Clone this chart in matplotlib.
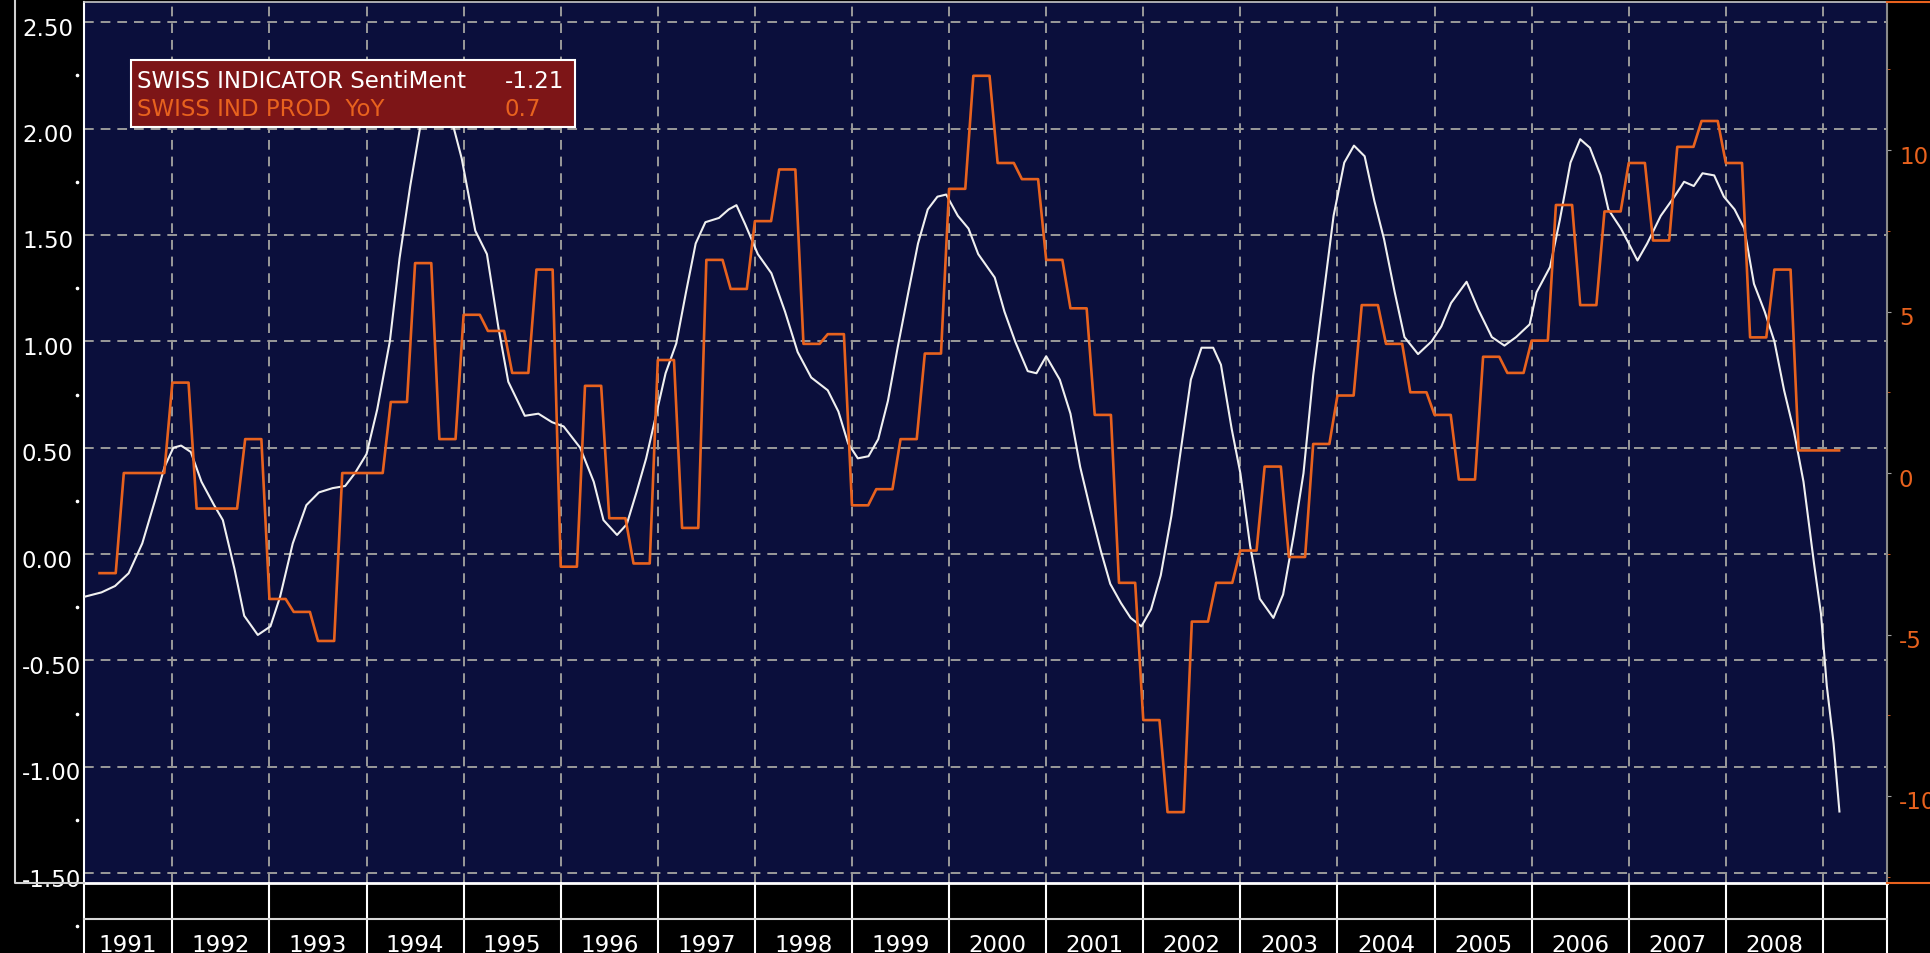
import numpy as np
import matplotlib
matplotlib.use('Agg')
import matplotlib.pyplot as plt
from matplotlib.lines import Line2D
from matplotlib.patches import Rectangle
from matplotlib import transforms

# SWISS INDICATOR Sentiment (left axis), decimal year -> value
sent_t = [1991.10, 1991.27, 1991.41, 1991.55, 1991.69, 1991.82, 1991.92,
          1992.01, 1992.09, 1992.19, 1992.30, 1992.43, 1992.52, 1992.64, 1992.74, 1992.88,
          1993.01, 1993.11, 1993.24, 1993.38, 1993.51, 1993.65, 1993.78, 1993.88,
          1994.00, 1994.11, 1994.24, 1994.34, 1994.45, 1994.55, 1994.72, 1994.90, 1994.98,
          1995.12, 1995.24, 1995.36, 1995.46, 1995.63, 1995.77, 1995.91,
          1996.03, 1996.20, 1996.34, 1996.44, 1996.58, 1996.68, 1996.78, 1996.88, 1996.98,
          1997.08, 1997.19, 1997.29, 1997.39, 1997.49, 1997.63, 1997.73, 1997.81, 1997.90,
          1998.03, 1998.17, 1998.31, 1998.44, 1998.58, 1998.75, 1998.86, 1998.96,
          1999.06, 1999.17, 1999.27, 1999.37, 1999.47, 1999.58, 1999.68, 1999.78, 1999.88, 1999.97,
          2000.09, 2000.20, 2000.30, 2000.47, 2000.57, 2000.68, 2000.81, 2000.90,
          2001.00, 2001.14, 2001.25, 2001.35, 2001.46, 2001.56, 2001.66, 2001.77, 2001.87, 2001.98,
          2002.08, 2002.18, 2002.29, 2002.39, 2002.49, 2002.60, 2002.72, 2002.80, 2002.91,
          2003.00, 2003.10, 2003.20, 2003.34, 2003.44, 2003.55, 2003.65, 2003.75, 2003.86, 2003.96,
          2004.07, 2004.17, 2004.28, 2004.38, 2004.48, 2004.59, 2004.69, 2004.83, 2004.97,
          2005.07, 2005.17, 2005.33, 2005.45, 2005.59, 2005.72, 2005.84, 2005.98,
          2006.05, 2006.19, 2006.29, 2006.40, 2006.50, 2006.60, 2006.71, 2006.79, 2006.92,
          2007.00, 2007.09, 2007.19, 2007.33, 2007.47, 2007.57, 2007.67, 2007.76, 2007.88, 2007.98,
          2008.09, 2008.19, 2008.29, 2008.40, 2008.50, 2008.60, 2008.70, 2008.80, 2008.91, 2008.98,
          2009.04, 2009.11, 2009.17]
sent_v = [-0.20, -0.18, -0.15, -0.09, 0.05, 0.25, 0.41,
          0.50, 0.51, 0.48, 0.34, 0.23, 0.16, -0.07, -0.29, -0.38,
          -0.34, -0.20, 0.05, 0.23, 0.29, 0.31, 0.32, 0.38,
          0.47, 0.68, 1.00, 1.39, 1.73, 2.00, 2.12, 2.00, 1.86,
          1.52, 1.41, 1.06, 0.81, 0.65, 0.66, 0.62,
          0.60, 0.50, 0.34, 0.16, 0.09, 0.14, 0.29, 0.45, 0.65,
          0.85, 0.99, 1.23, 1.46, 1.56, 1.58, 1.62, 1.64, 1.55,
          1.41, 1.32, 1.14, 0.95, 0.83, 0.77, 0.67, 0.52,
          0.45, 0.46, 0.54, 0.72, 0.97, 1.23, 1.46, 1.62, 1.68, 1.69,
          1.59, 1.53, 1.41, 1.30, 1.14, 1.00, 0.86, 0.85,
          0.93, 0.82, 0.66, 0.41, 0.20, 0.02, -0.14, -0.23, -0.30, -0.34,
          -0.26, -0.10, 0.18, 0.50, 0.82, 0.97, 0.97, 0.89, 0.59,
          0.38, 0.04, -0.21, -0.30, -0.19, 0.09, 0.38, 0.84, 1.23, 1.59,
          1.84, 1.92, 1.87, 1.66, 1.48, 1.23, 1.02, 0.94, 1.00,
          1.07, 1.18, 1.28, 1.15, 1.02, 0.98, 1.02, 1.08,
          1.23, 1.35, 1.57, 1.84, 1.95, 1.91, 1.78, 1.62, 1.53,
          1.46, 1.38, 1.46, 1.59, 1.68, 1.75, 1.73, 1.79, 1.78, 1.68,
          1.62, 1.53, 1.27, 1.14, 1.00, 0.77, 0.58, 0.34, -0.05, -0.28,
          -0.62, -0.89, -1.21]

# SWISS IND PROD YoY (right axis), one value per quarter, first quarter = Q2 1991
ip_first_month = 1991.25
ip_quarterly = [-3.1, 0.0, 0.0,
                2.8, -1.1, -1.1, 1.05,
                -3.9, -4.3, -5.2, 0.0,
                0.0, 2.2, 6.5, 1.05,
                4.9, 4.4, 3.1, 6.3,
                -2.9, 2.7, -1.4, -2.8,
                3.5, -1.7, 6.6, 5.7,
                7.8, 9.4, 4.0, 4.3,
                -1.0, -0.5, 1.05, 3.7,
                8.8, 12.3, 9.6, 9.1,
                6.6, 5.1, 1.8, -3.4,
                -7.65, -10.5, -4.6, -3.4,
                -2.4, 0.2, -2.6, 0.9,
                2.4, 5.2, 4.0, 2.5,
                1.8, -0.2, 3.6, 3.1,
                4.1, 8.3, 5.2, 8.1,
                9.6, 7.2, 10.1, 10.9,
                9.6, 4.2, 6.3, 0.7,
                0.7]

year_labels = list(range(1991, 2009))
left_ticks = [2.5, 2.0, 1.5, 1.0, 0.5, 0.0, -0.5, -1.0, -1.5]
right_ticks = [10, 5, 0, -5, -10]

W, H = 1931, 954
navy = '#0b0f3c'
orange = '#e8621e'
gridc = '#9a9a9a'
fs = 16.5
plt.rcParams['font.family'] = ['DejaVu Sans']
plt.rcParams['lines.scale_dashes'] = False

fig = plt.figure(figsize=(W / 100, H / 100), dpi=100, facecolor='black')

x0, x1 = 1991.09, 2009.66
ax = fig.add_axes([84 / W, 1 - 884 / H, (1887 - 84) / W, (884 - 3) / H])
ax.set_facecolor(navy)
ax.set_xlim(x0, x1)
ax.set_ylim(-1.546, 2.595)
ax.set_xticks(range(1992, 2010))
ax.set_yticks(left_ticks)
ax.grid(True, color=gridc, linestyle=(0, (7, 5)), linewidth=1.4)
ax.tick_params(bottom=False, labelbottom=False, left=False, labelleft=False)
ax.spines['left'].set_color('white')
ax.spines['left'].set_linewidth(1.5)
ax.spines['top'].set_color('#c8c8c8')
ax.spines['top'].set_linewidth(1.2)
ax.spines['bottom'].set_color('white')
ax.spines['bottom'].set_linewidth(2)
ax.spines['right'].set_visible(False)

ax2 = ax.twinx()
ax2.set_ylim((-1.546 - 0.381) / 0.1518, (2.595 - 0.381) / 0.1518)
ax2.set_yticks(right_ticks)
ax2.set_yticks([12.5, 7.5, 2.5, -2.5, -7.5, -12.5], minor=True)
ax2.tick_params(axis='y', which='major', length=3, color='#a0a0a0', labelright=False)
ax2.tick_params(axis='y', which='minor', length=2, color=orange)
for s in ['left', 'top', 'bottom']:
    ax2.spines[s].set_visible(False)
ax2.spines['right'].set_color('#8a8a8a')
ax2.spines['right'].set_linewidth(1.5)

# the lines
ip_monthly = np.repeat(ip_quarterly, 3)
ip_dates = ip_first_month + np.arange(len(ip_monthly)) / 12
ax2.plot(ip_dates, ip_monthly, color=orange, linewidth=1.9)
ax.plot(sent_t, sent_v, color='#f0f0f0', linewidth=1.5, zorder=3)

# tick labels (drawn under the plot area, so long ones get cut by it)
down = transforms.ScaledTranslation(0, -6 / 100, fig.dpi_scale_trans)
tl = transforms.blended_transform_factory(fig.transFigure, ax.transData) + down
for v in left_ticks:
    fig.text(22 / W, v, f'{v:.2f}', transform=tl, color='white', fontsize=fs,
             ha='left', va='center', zorder=-1)
tr = transforms.blended_transform_factory(fig.transFigure, ax2.transData) + down
for v in right_ticks:
    fig.text(1899 / W, v, str(v), transform=tr, color=orange, fontsize=fs,
             ha='left', va='center', zorder=-1)

# small dots on the left scale
dots = np.arange(-1.75, 2.5, 0.5)
ax.plot(np.full(len(dots), -6.5 / 1803), dots, 'o', ms=1.6, color='white',
        transform=transforms.blended_transform_factory(ax.transAxes, ax.transData),
        clip_on=False)

# year table under the plot
tb = transforms.blended_transform_factory(ax.transData, ax.transAxes)
tbot = -70 / 881
for yr in [x0] + list(range(1992, 2010)) + [x1]:
    ax.plot([yr, yr], [tbot, 0], transform=tb, color='white', lw=1.5, clip_on=False)
ax.plot([0, 1], [-36 / 881, -36 / 881], transform=ax.transAxes, color='#d8d8d8',
        lw=1.5, clip_on=False)
for yr in year_labels:
    c = (max(yr, x0) + min(yr + 1, x1)) / 2
    ax.text(c, -61 / 881, str(yr), transform=tb, color='white', fontsize=fs,
            ha='center', va='center', clip_on=False)

# frame bits outside the plot
fig.add_artist(Line2D([15 / W, 15 / W, 84 / W], [1, 1 - 884 / H, 1 - 884 / H],
                      color='#d0d0d0', lw=1.5))
fig.add_artist(Line2D([1887 / W, 1], [1 - 3 / H, 1 - 3 / H], color=orange, lw=1.5))
fig.add_artist(Line2D([1887 / W, 1], [1 - 884 / H, 1 - 884 / H], color=orange, lw=1.5))

# legend box
fig.add_artist(Rectangle((131 / W, 1 - 128 / H), (575 - 131) / W, (128 - 61) / H,
                         transform=fig.transFigure, facecolor='#7d1517',
                         edgecolor='white', lw=1.5, zorder=5))
fig.text(137 / W, 1 - 81 / H, 'SWISS INDICATOR SentiMent', color='white', fontsize=fs,
         ha='left', va='center', zorder=6)
fig.text(505 / W, 1 - 81 / H, f'{sent_v[-1]:.2f}', color='white', fontsize=fs,
         ha='left', va='center', zorder=6)
fig.text(137 / W, 1 - 110 / H, 'SWISS IND PROD  YoY', color=orange, fontsize=fs,
         ha='left', va='center', zorder=6)
fig.text(505 / W, 1 - 110 / H, f'{ip_quarterly[-1]:.1f}', color=orange, fontsize=fs,
         ha='left', va='center', zorder=6)

fig.savefig('out.png', dpi=100, facecolor='black')
